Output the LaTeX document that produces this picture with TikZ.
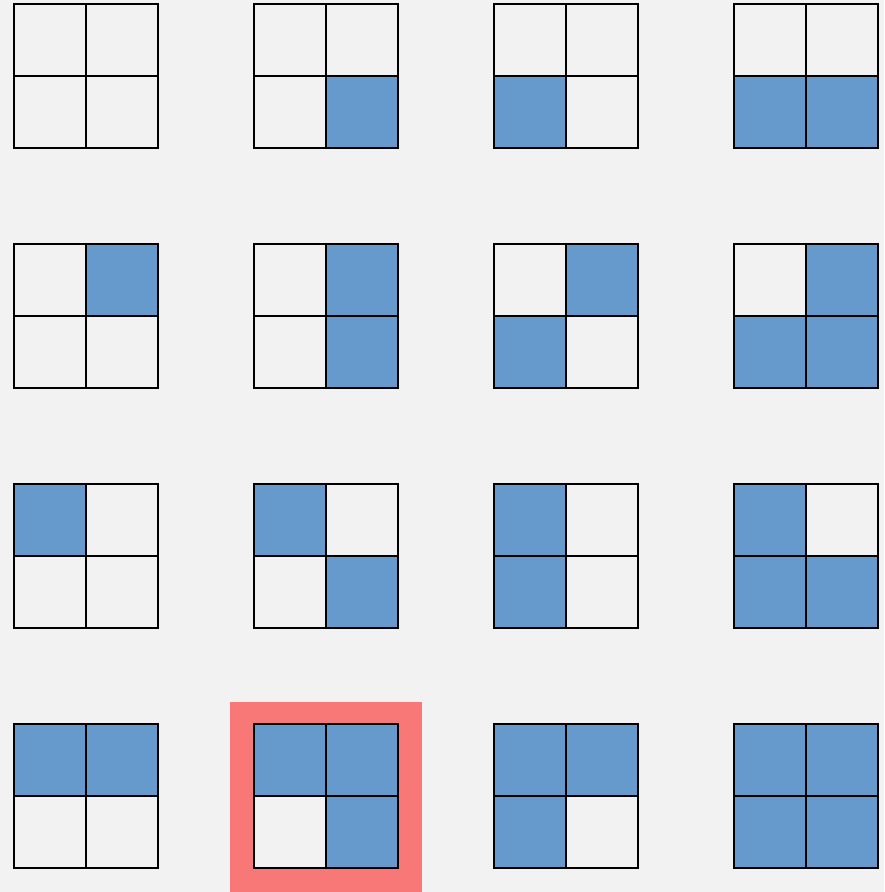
\documentclass[tikz,border=0pt]{standalone}
\usepackage{tikz}
\usetikzlibrary{positioning}
\usepackage{xcolor}
\definecolor{pagegrey}{HTML}{F2F2F2}
\definecolor{cellblue}{HTML}{6699CC}
\definecolor{pickred}{HTML}{F87878}

\begin{document}
\begin{tikzpicture}[
				x=0.03cm, y=-0.03cm,
				cell/.style={draw=black, line width=0.085cm, minimum size=2.16cm, inner sep=0pt, outer sep=0pt, fill=pagegrey},
				pick/.style={fill=pickred, minimum width=5.76cm, minimum height=5.7cm, inner sep=0pt, outer sep=0pt}
			]
			\fill[pagegrey] (0,0) rectangle (884,892);
			\useasboundingbox (0,0) rectangle (884,892);
			% highlighted pattern (number 13)
			\node[pick] (hl) at (326,797) {};
			% 16 grids, cell weights: top left 8, top right 4, bottom left 2, bottom right 1
			\foreach \n in {0,...,15} {
				\pgfmathtruncatemacro\col{mod(\n,4)}
				\pgfmathtruncatemacro\row{floor(\n/4)}
				\foreach \w/\dx/\dy in {8/36/36, 4/108/36, 2/36/108, 1/108/108} {
					\pgfmathtruncatemacro\on{mod(floor(\n/\w),2)}
					\ifnum\on=1 \def\fc{cellblue}\else\def\fc{pagegrey}\fi
					\node[cell, fill=\fc] (g\n-\w) at ({14+240*\col+\dx},{4+240*\row+\dy}) {};
				}
			}
		\end{tikzpicture}
\end{document}
